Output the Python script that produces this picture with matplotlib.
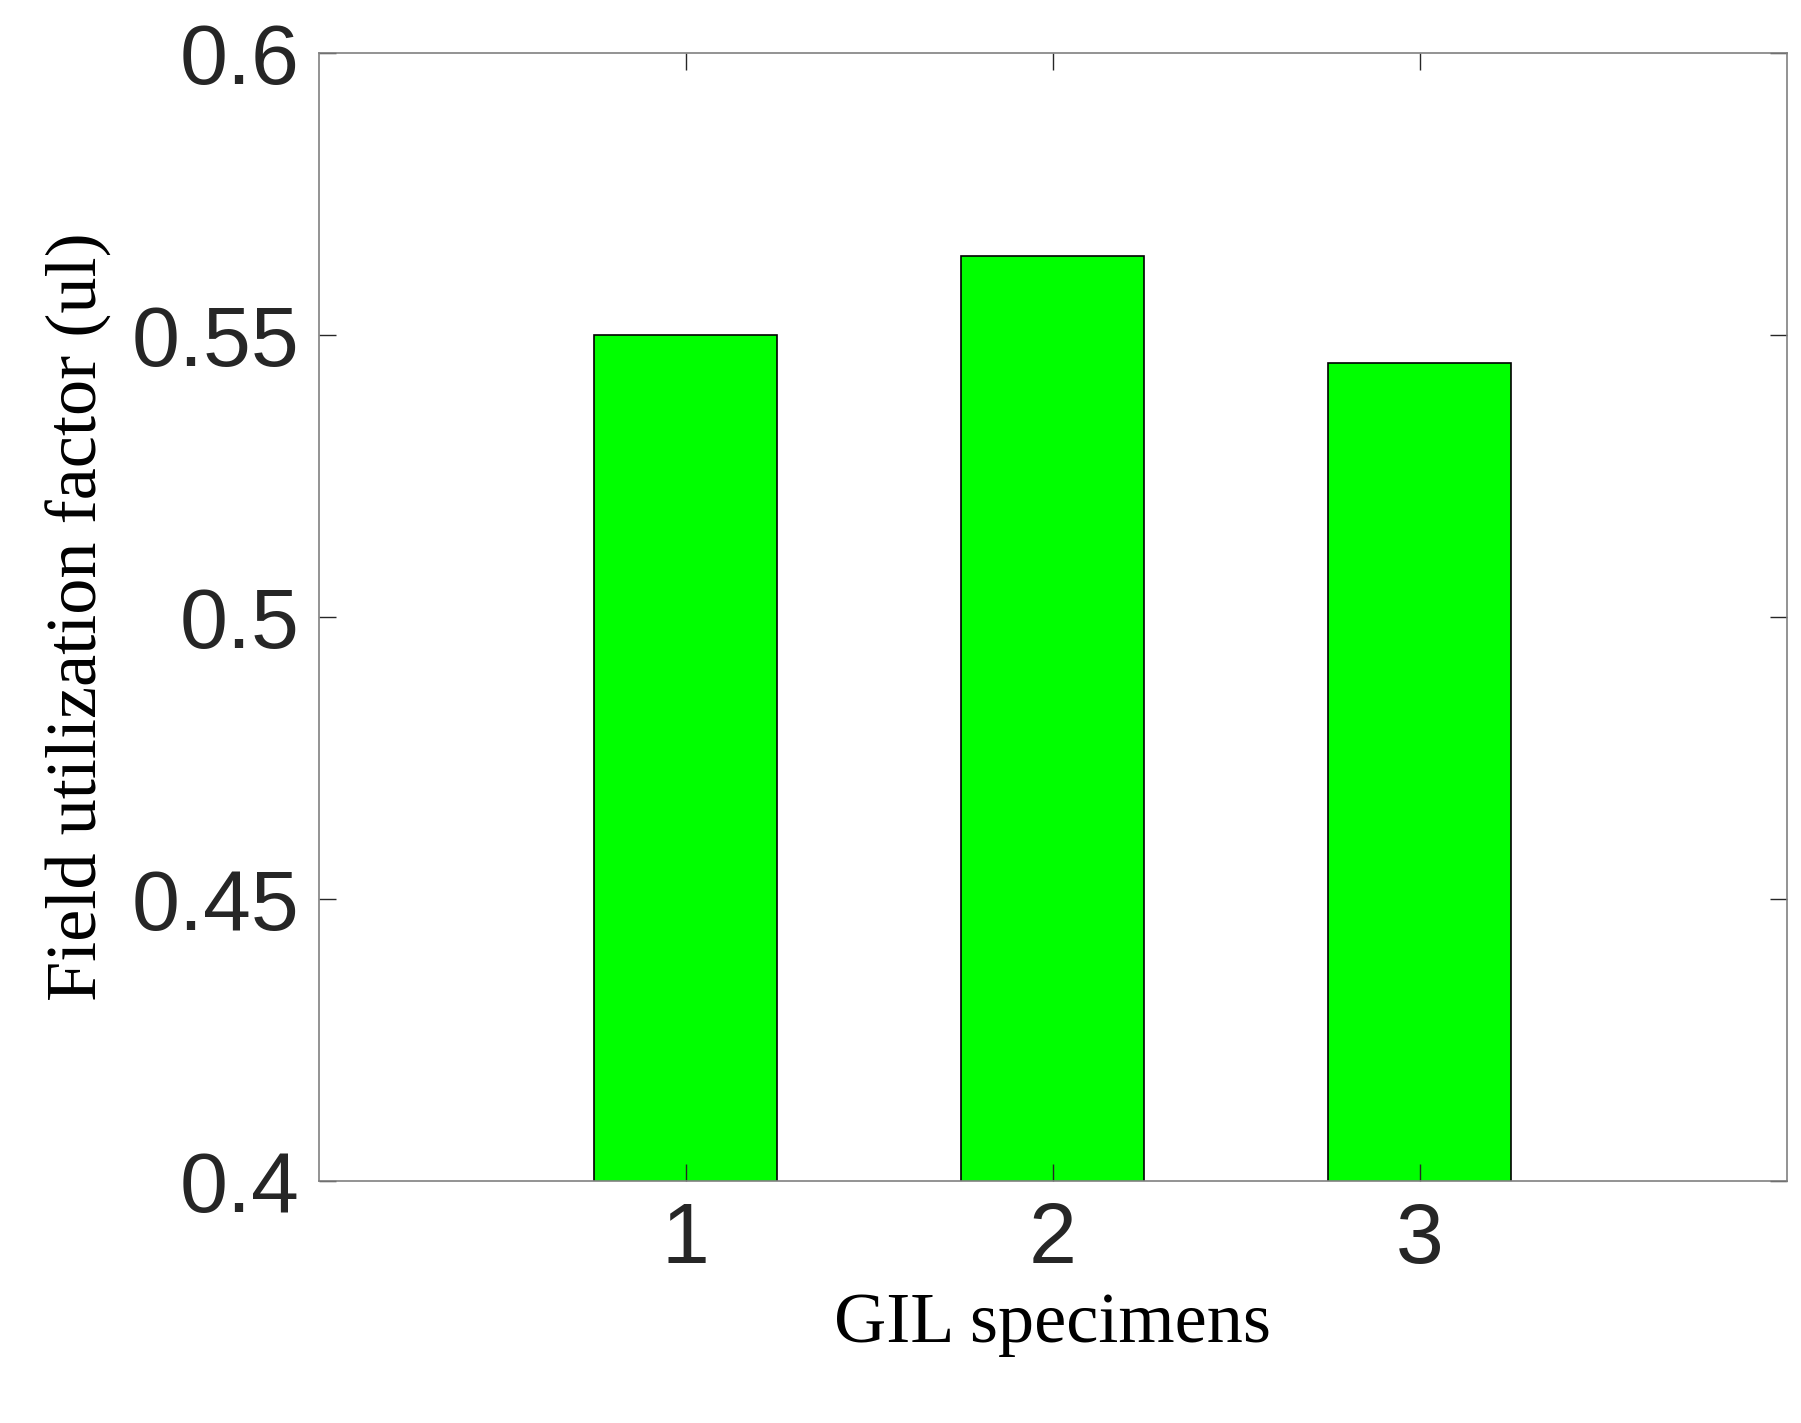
import matplotlib
matplotlib.use("Agg")
import matplotlib.pyplot as plt

specimens = [1, 2, 3]
values = [0.550, 0.564, 0.545]
yticks = [0.4, 0.45, 0.5, 0.55, 0.6]
ytick_labels = ["0.4", "0.45", "0.5", "0.55", "0.6"]

fig = plt.figure(figsize=(18.01, 14.23), dpi=100)
ax = fig.add_axes([0.177, 0.170, 0.815, 0.793])
ax.bar(specimens, values, width=0.5, color="#00ff00", edgecolor="black", linewidth=1.2)
ax.set_xlim(0, 4)
ax.set_ylim(0.4, 0.6)
ax.set_xticks(specimens)
ax.set_xticklabels([str(s) for s in specimens], family="Liberation Sans", fontsize=62)
ax.set_yticks(yticks)
ax.set_yticklabels(ytick_labels, family="Liberation Sans", fontsize=62)
ax.tick_params(direction="in", length=12, width=1, colors="#262626", top=True, right=True, pad=14)
for s in ax.spines.values():
    s.set_color("#808080")
    s.set_linewidth(1.2)
ax.set_xlabel("GIL specimens", family="Liberation Serif", fontsize=52, labelpad=8)
ax.set_ylabel("Field utilization factor (ul)", family="Liberation Serif", fontsize=52, labelpad=14)
fig.savefig("out.png", dpi=100)
